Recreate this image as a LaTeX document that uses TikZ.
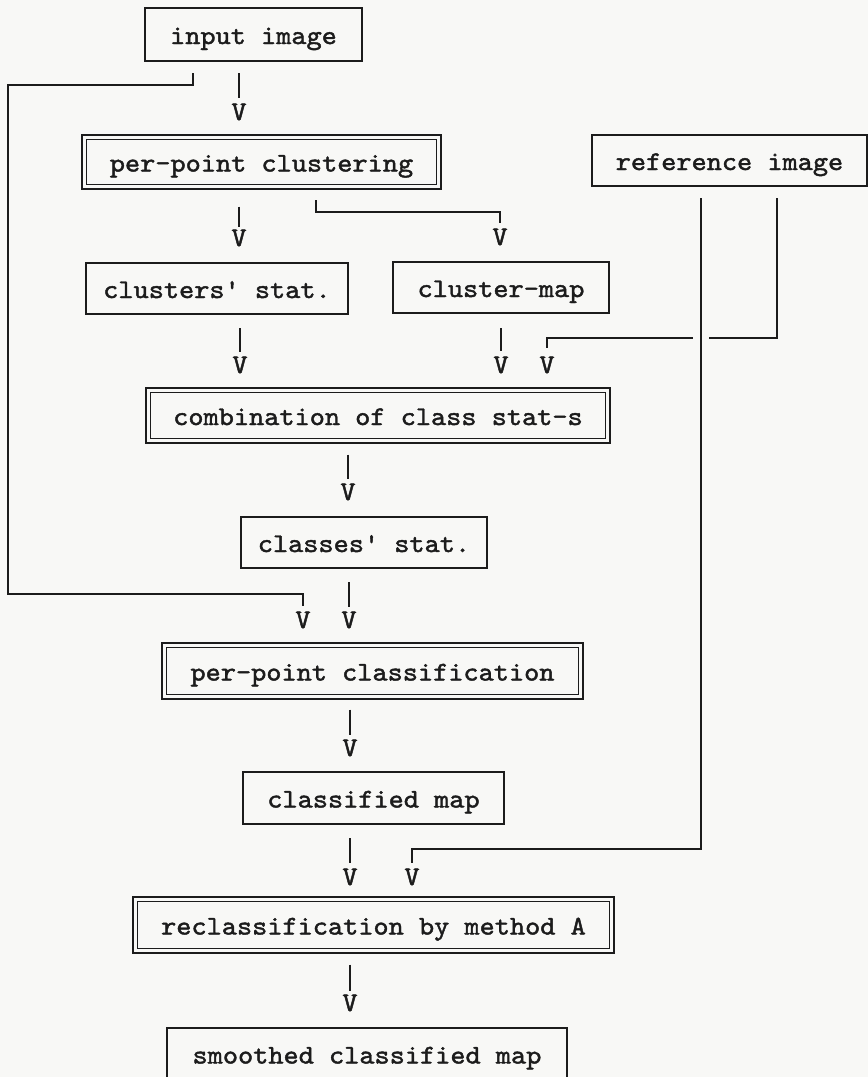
\documentclass[tikz,border=0pt]{standalone}
\usepackage{fontspec}
\newfontfamily\flowfont[FakeStretch=1.07,FakeBold=1.6]{lmmono10-regular.otf}
\usetikzlibrary{calc}
\definecolor{paper}{RGB}{248,248,246}
\definecolor{ink}{RGB}{28,28,28}

\begin{document}
\begin{tikzpicture}[x=1pt,y=-1pt,
  every node/.style={font=\flowfont\fontsize{27}{30}\selectfont, text=ink},
  stepbox/.style 2 args={draw=ink, line width=1.4pt, outer sep=0pt, inner sep=0pt,
    minimum width=#1pt, minimum height=#2pt, text height=24pt, text depth=5pt},
  dblbox/.style 2 args={draw=ink, line width=1.4pt, double=paper, double distance=3.3pt,
    outer sep=0pt, inner sep=0pt,
    minimum width=#1pt-4.7pt, minimum height=#2pt-4.7pt, text height=24pt, text depth=5pt},
  vmark/.style={inner sep=0pt, outer sep=0pt},
  link/.style={draw=ink, line width=1.4pt},
  crossing/.style={preaction={draw=paper, line width=16pt}}
]
% paper and frame
\fill[paper] (0,0) rectangle (868,1077);
\useasboundingbox (0,0) rectangle (868,1077);

% processing steps
\node[stepbox={217}{53}] (input)   at (253.5,34.5) {input image};
\node[dblbox={359}{54}]  (ppclust) at (261.5,162)  {per-point clustering};
\node[stepbox={275}{51}] (refimg)  at (729.5,160.5) {reference image};
\node[stepbox={262}{51}] (cstat)   at (217,288.5)  {clusters' stat.};
\node[stepbox={216}{51}] (cmap)    at (501,287.5)  {cluster-map};
\node[dblbox={464}{55}]  (comb)    at (378,415.5)  {combination of class stat-s};
\node[stepbox={246}{51}] (clstat)  at (364,542.5)  {classes' stat.};
\node[dblbox={421}{56}]  (ppclass) at (372.5,671)  {per-point classification};
\node[stepbox={261}{52}] (clmap)   at (373.5,798)  {classified map};
\node[dblbox={481}{56}]  (reclass) at (373.5,925)  {reclassification by method A};
\node[stepbox={400}{52}] (smooth)  at (367,1054)   {smoothed classified map};

% typed arrowheads
\node[vmark] (va) at (239,112) {V};
\node[vmark] (vb) at (239,238) {V};
\node[vmark] (vc) at (500,237) {V};
\node[vmark] (vd) at (240,365) {V};
\node[vmark] (ve) at (501,365) {V};
\node[vmark] (vf) at (547,365) {V};
\node[vmark] (vg) at (348,492) {V};
\node[vmark] (vh) at (303,620) {V};
\node[vmark] (vi) at (349,620) {V};
\node[vmark] (vj) at (350,748) {V};
\node[vmark] (vk) at (350,877) {V};
\node[vmark] (vl) at (412,877) {V};
\node[vmark] (vm) at (350,1003) {V};

% straight drops
\draw[link] ($(input.south -| va)+(0,12)$)   -- ($(va.north)+(0,-6)$);
\draw[link] ($(ppclust.south -| vb)+(0,20)$) -- ($(vb.north)+(0,-3)$);
\draw[link] ($(cstat.south -| vd)+(0,14)$)   -- ($(vd.north)+(0,-5)$);
\draw[link] ($(cmap.south -| ve)+(0,15)$)    -- ($(ve.north)+(0,-6)$);
\draw[link] ($(comb.south -| vg)+(0,14)$)    -- ($(vg.north)+(0,-5)$);
\draw[link] ($(clstat.south -| vi)+(0,14)$)  -- ($(vi.north)+(0,-5)$);
\draw[link] ($(ppclass.south -| vj)+(0,13)$) -- ($(vj.north)+(0,-5)$);
\draw[link] ($(clmap.south -| vk)+(0,14)$)   -- ($(vk.north)+(0,-6)$);
\draw[link] ($(reclass.south -| vm)+(0,14)$) -- ($(vm.north)+(0,-4)$);

% bent connectors
\draw[link] ($(input.south)+(-60.5,12)$) |- (8,85) |- (vh |- 0,594) -- ($(vh.north)+(0,-6)$);
\draw[link] ($(ppclust.south)+(54.5,13.5)$) |- (vc |- 0,212) -- ($(vc.north)+(0,-6)$);
\draw[link] ($(refimg.south)+(47.5,12)$) |- (vf |- 0,338) -- ($(vf.north)+(0,-9)$);
\draw[link,crossing] ($(refimg.south)+(-28.5,12)$) |- (vl |- 0,849) -- ($(vl.north)+(0,-6)$);
\end{tikzpicture}
\end{document}
